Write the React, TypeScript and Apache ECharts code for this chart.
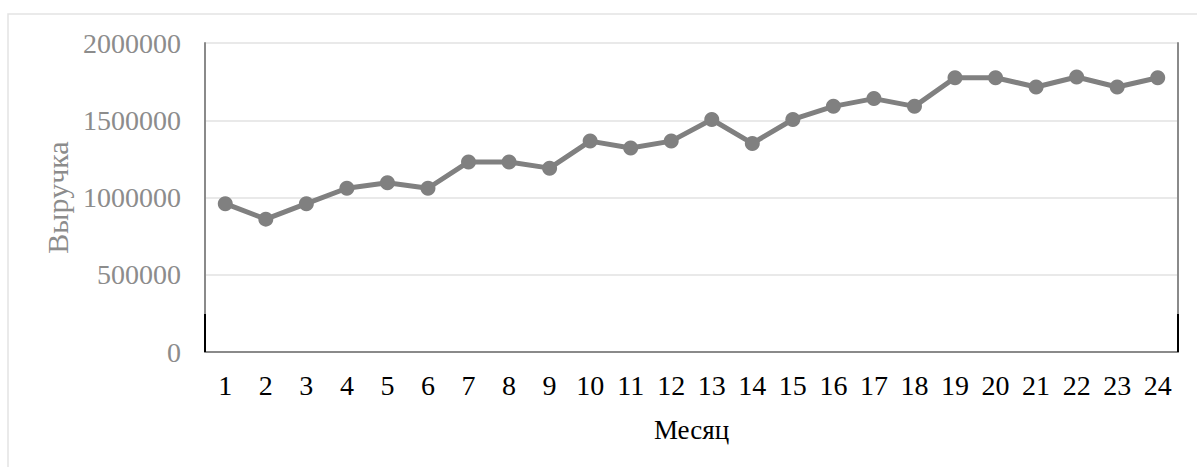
import React, { useEffect, useRef } from "react";
import * as echarts from "echarts";

const months = ["1","2","3","4","5","6","7","8","9","10","11","12","13","14","15","16","17","18","19","20","21","22","23","24"];
const revenue = [960000, 860000, 960000, 1060000, 1095000, 1060000, 1230000, 1230000, 1190000, 1365000, 1320000, 1365000, 1505000, 1350000, 1505000, 1590000, 1640000, 1590000, 1775000, 1775000, 1715000, 1780000, 1715000, 1775000];
const yAxisName = "Выручка";
const xAxisName = "Месяц";

const FONT = "'Liberation Serif', 'Times New Roman', serif";

export default function App() {
  const ref = useRef<HTMLDivElement>(null);
  useEffect(() => {
    if (!ref.current) return;
    const chart = echarts.init(ref.current, null, { renderer: "svg" });
    chart.setOption({
      animation: false,
      backgroundColor: "#ffffff",
      grid: { left: 205, right: 19, top: 43, bottom: 115 },
      xAxis: [
        {
          type: "category",
          data: months,
          boundaryGap: true,
          name: xAxisName,
          nameLocation: "middle",
          nameGap: 64,
          nameTextStyle: { fontFamily: FONT, fontSize: 27, color: "#000000" },
          axisLine: { show: true, lineStyle: { color: "#d9d9d9", width: 2 } },
          axisTick: { show: false },
          axisLabel: { fontFamily: FONT, fontSize: 28, color: "#000000", margin: 19, interval: 0 },
          splitLine: { show: false },
        },
        {
          type: "category",
          data: months,
          position: "top",
          axisLine: { show: true, lineStyle: { color: "#8a8a8a", width: 2 } },
          axisTick: { show: false },
          axisLabel: { show: false },
        },
      ],
      yAxis: [
        {
          type: "value",
          min: 0,
          max: 2000000,
          interval: 500000,
          name: yAxisName,
          nameLocation: "middle",
          nameGap: 128,
          nameTextStyle: { fontFamily: FONT, fontSize: 30, color: "#8c8c8c" },
          axisLine: { show: true, lineStyle: { color: "#8a8a8a", width: 2 } },
          axisTick: { show: false },
          axisLabel: {
            fontFamily: FONT,
            fontSize: 28,
            color: "#8c8c8c",
            margin: 24,
            formatter: (v: number) => String(v),
          },
          splitLine: { show: true, lineStyle: { color: "#e9e9e9", width: 2 } },
        },
        {
          type: "value",
          min: 0,
          max: 2000000,
          interval: 500000,
          position: "right",
          axisLine: { show: true, lineStyle: { color: "#8a8a8a", width: 2 } },
          axisTick: { show: false },
          axisLabel: { show: false },
          splitLine: { show: false },
        },
      ],
      series: [
        {
          type: "line",
          data: revenue,
          symbol: "circle",
          symbolSize: 15,
          lineStyle: { color: "#808080", width: 5 },
          itemStyle: { color: "#808080" },
          z: 5,
        },
      ],
      graphic: [
        {
          type: "rect",
          shape: { x: 8, y: 14, width: 1200, height: 470 },
          style: { fill: "none", stroke: "#e3e3e3", lineWidth: 1.5 },
          silent: true,
        },
        {
          type: "line",
          shape: { x1: 205, y1: 314, x2: 205, y2: 352 },
          style: { stroke: "#000000", lineWidth: 2 },
          silent: true,
          z: 10,
        },
        {
          type: "line",
          shape: { x1: 1178, y1: 314, x2: 1178, y2: 352 },
          style: { stroke: "#000000", lineWidth: 2 },
          silent: true,
          z: 10,
        },
      ],
    });
    return () => chart.dispose();
  }, []);
  return (
    <div
      ref={ref}
      style={{ position: "absolute", left: 0, top: 0, width: 1197, height: 467 }}
    />
  );
}
